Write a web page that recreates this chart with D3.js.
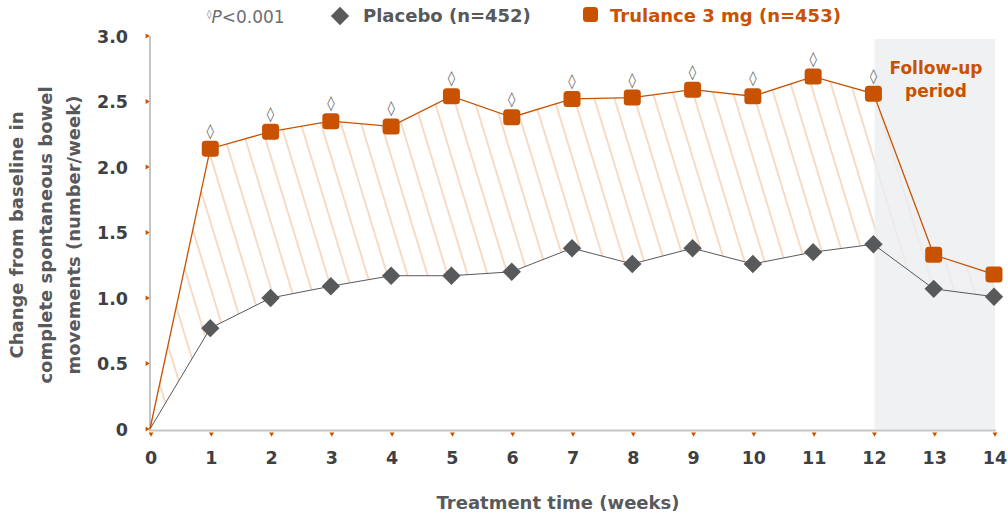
<!DOCTYPE html>
<html><head><meta charset="utf-8">
<script src="https://cdn.jsdelivr.net/npm/d3@7"></script>
<style>body{margin:0;background:#fff}svg{display:block}text{font-family:"DejaVu Sans",sans-serif}</style>
</head><body><svg id="c" width="1008" height="518"></svg>
<script>
const weeks = [0,1,2,3,4,5,6,7,8,9,10,11,12,13,14];
const trulance = [0,2.14,2.27,2.35,2.31,2.54,2.38,2.52,2.53,2.59,2.54,2.69,2.56,1.33,1.18];
const placebo = [0,0.77,1.00,1.09,1.17,1.17,1.20,1.38,1.26,1.38,1.26,1.35,1.41,1.07,1.01];
const sigWeeks = [1,2,3,4,5,6,7,8,9,10,11,12];
const yTicks = [0,0.5,1.0,1.5,2.0,2.5,3.0];
const xTicks = weeks;
const followUp = [12,14];

const ORANGE="#c85200", GREY="#58595b", DARK="#3f4042";
const svg=d3.select("#c");
const x=d3.scaleLinear().domain([0,14]).range([150,994]);
const y=d3.scaleLinear().domain([0,3]).range([429,36]);

const defs=svg.append("defs");
const pat=defs.append("pattern").attr("id","hatch").attr("patternUnits","userSpaceOnUse")
 .attr("width",19.2).attr("height",40).attr("patternTransform","rotate(-17)");
pat.append("line").attr("x1",2).attr("x2",2).attr("y1",-5).attr("y2",45).attr("stroke","#f2c4a0").attr("stroke-width",1.2);

// hatch area
const area=d3.area().x((d,i)=>x(weeks[i])).y0((d,i)=>y(placebo[i])).y1((d,i)=>y(trulance[i]));
svg.append("path").datum(trulance).attr("d",area).attr("fill","url(#hatch)");

// follow-up region
svg.append("rect").attr("x",x(followUp[0])+1).attr("width",x(followUp[1])-x(followUp[0])).attr("y",39).attr("height",y(0)-39)
 .attr("fill","#eceef0").attr("opacity",0.8);
svg.append("text").attr("x",936).attr("y",74).attr("text-anchor","middle").attr("fill",ORANGE).attr("font-weight",700).attr("font-size",17).text("Follow-up");
svg.append("text").attr("x",936).attr("y",97).attr("text-anchor","middle").attr("fill",ORANGE).attr("font-weight",700).attr("font-size",17).text("period");

// axes
svg.append("line").attr("x1",x(0)).attr("x2",x(0)).attr("y1",y(3)).attr("y2",y(0)+1).attr("stroke","#8a8a8a").attr("stroke-width",1);
svg.append("line").attr("x1",x(0)-1).attr("x2",x(14)+2).attr("y1",y(0)+1.5).attr("y2",y(0)+1.5).attr("stroke","#c6c6c6").attr("stroke-width",2);

const tri=d3.symbol().type(d3.symbolTriangle).size(10);
svg.selectAll(".yt").data(yTicks).join("path").attr("d",tri)
 .attr("transform",d=>`translate(${x(0)-3},${y(d)}) rotate(90)`).attr("fill",ORANGE);
svg.selectAll(".xt").data(xTicks).join("path").attr("d",tri)
 .attr("transform",d=>`translate(${x(d)+1},${y(0)+5}) rotate(180)`).attr("fill",ORANGE);

svg.selectAll(".yl").data(yTicks).join("text").attr("x",128).attr("y",d=>y(d)+6.5).attr("text-anchor","end")
 .attr("fill",DARK).attr("font-weight",700).attr("font-size",17.5).text(d=>d===0?"0":d3.format(".1f")(d));
svg.selectAll(".xl").data(xTicks).join("text").attr("x",d=>x(d)+1).attr("y",464).attr("text-anchor","middle")
 .attr("fill",DARK).attr("font-weight",700).attr("font-size",17.5).text(d=>d);

svg.append("text").attr("x",558).attr("y",509).attr("text-anchor","middle").attr("fill",GREY).attr("font-weight",700).attr("font-size",18).text("Treatment time (weeks)");
const yt=svg.append("text").attr("transform","translate(0,235) rotate(-90)").attr("text-anchor","middle").attr("fill",GREY).attr("font-weight",700).attr("font-size",18);
["Change from baseline in","complete spontaneous bowel","movements (number/week)"].forEach((t,i)=>yt.append("tspan").attr("x",0).attr("y",23+i*28.5).text(t));

// lines
const line=arr=>d3.line().x((d,i)=>x(weeks[i])).y(d=>y(d))(arr);
svg.append("path").attr("d",line(placebo)).attr("fill","none").attr("stroke",GREY).attr("stroke-width",1);
svg.append("path").attr("d",line(trulance)).attr("fill","none").attr("stroke",ORANGE).attr("stroke-width",1.3);

// markers
svg.selectAll(".pm").data(weeks.slice(1)).join("rect").attr("width",13).attr("height",13).attr("x",-6.5).attr("y",-6.5)
 .attr("transform",d=>`translate(${x(d)},${y(placebo[d])}) rotate(45)`).attr("fill",GREY);
svg.selectAll(".tm").data(weeks.slice(1)).join("rect").attr("width",17).attr("height",16).attr("rx",3.5)
 .attr("x",d=>x(d)-8.5).attr("y",d=>y(trulance[d])-8).attr("fill",ORANGE);

svg.selectAll(".sig").data(sigWeeks).join("text").attr("x",d=>x(d)).attr("y",d=>y(trulance[d])-13).attr("text-anchor","middle")
 .attr("fill","#6d6e70").attr("font-size",15).text("\u25CA");

// legend / p-value
const pv=svg.append("text").attr("x",207).attr("y",23).attr("fill","#6d6e70").attr("font-size",17);
pv.append("tspan").attr("font-size",9).attr("dy",-6).text("\u25CA");
pv.append("tspan").attr("dy",6).attr("font-style","italic").text("P");
pv.append("tspan").text("<0.001");
svg.append("rect").attr("width",13).attr("height",13).attr("x",-6.5).attr("y",-6.5).attr("transform","translate(340,16) rotate(45)").attr("fill",GREY);
svg.append("text").attr("x",363).attr("y",22).attr("fill",GREY).attr("font-weight",700).attr("font-size",18).text("Placebo (n=452)");
svg.append("rect").attr("x",583).attr("y",7).attr("width",15).attr("height",15).attr("rx",3.5).attr("fill",ORANGE);
svg.append("text").attr("x",610).attr("y",22).attr("fill",ORANGE).attr("font-weight",700).attr("font-size",18).text("Trulance 3 mg (n=453)");
</script></body></html>
